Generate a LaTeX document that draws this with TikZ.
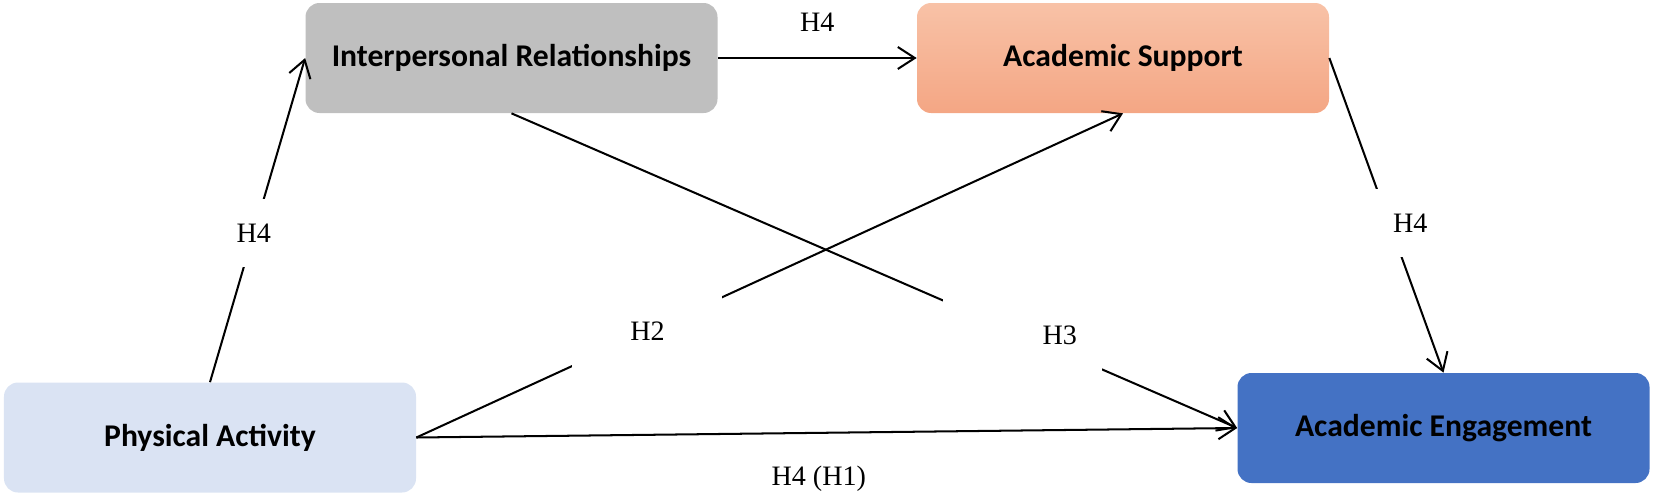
\documentclass[tikz,border=0pt]{standalone}
\usepackage{fontspec}
\setmainfont{Liberation Serif}
\newfontfamily\boxfont{Carlito}
\usetikzlibrary{arrows.meta, positioning}

\definecolor{irgray}{HTML}{BFBFBF}
\definecolor{astop}{HTML}{F8C2A7}
\definecolor{asbot}{HTML}{F4A684}
\definecolor{paback}{HTML}{DAE3F3}
\definecolor{aeback}{HTML}{4472C4}

\begin{document}
\begin{tikzpicture}[
    box/.style={rounded corners=0.28cm, minimum width=8.24cm, minimum height=2.2cm,
        font=\boxfont\bfseries\fontsize{18}{21}\selectfont, text=black},
    link/.style={line width=1.15pt, -{Straight Barb[length=3.4mm, width=4.4mm, line width=1.15pt]}},
    hyp/.style={font=\fontsize{16}{19}\selectfont, fill=white}
]
    \useasboundingbox (0,0) rectangle (33.06,-9.9);

    \node [box, fill=irgray] (IR) at (10.23,-1.16) {Interpersonal Relationships};
    \node [box, top color=astop, bottom color=asbot] (AS) at (22.46,-1.16) {Academic Support};
    \node [box, fill=paback] (PA) at (4.2,-8.75) {Physical Activity};
    \node [box, fill=aeback] (AE) at (28.87,-8.56) {Academic Engagement};

    \draw [link] (PA.north) -- node [hyp, pos=0.46, minimum width=0.9cm, minimum height=1.36cm] {H4} (IR.west);
    \draw [link] (IR.east) -- node [hyp, above=0.4cm, fill=none] {H4} (AS.west);
    \draw [link] (IR.south) -- node [hyp, pos=0.704, text width=2.18cm, align=right, inner xsep=0.5cm, minimum height=1.5cm] {H3} (AE.west);
    \draw [link] (PA.east) -- node [hyp, pos=0.327, minimum width=3cm, minimum height=1.5cm] {H2} (AS.south);
    \draw [link] (PA.east) -- node [hyp, below=0.53cm, xshift=-0.16cm, fill=none] {H4 (H1)} (AE.west);
    \draw [link] (AS.east) -- node [hyp, pos=0.524, xshift=0.42cm, minimum width=1.4cm, minimum height=1.36cm] {H4} (AE.north);
\end{tikzpicture}
\end{document}
